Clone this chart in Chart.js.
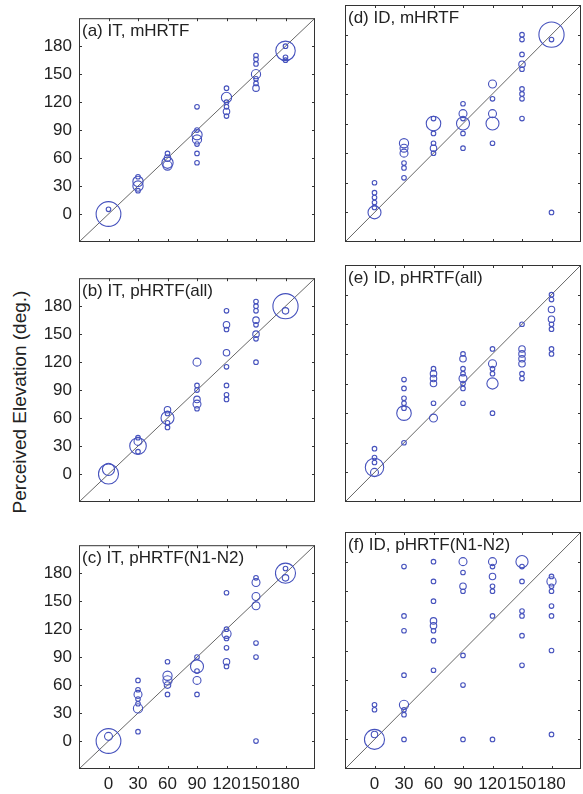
<!DOCTYPE html>
<html>
<head>
<meta charset="utf-8">
<title>Perceived vs target elevation</title>
<script src="https://cdn.jsdelivr.net/npm/chart.js@4.4.1/dist/chart.umd.min.js"></script>
<style>
  html, body { margin: 0; padding: 0; background: #fff; overflow: hidden; }
  body { width: 583px; height: 794px; position: relative; }
  canvas { position: absolute; }
  #ylabel {
    position: absolute; left: 20px; top: 402px;
    transform: translate(-50%, -50%) rotate(-90deg);
    font: 19px "Liberation Sans", Arial, sans-serif; color: #222;
    white-space: nowrap;
  }
</style>
</head>
<body>
<div id="ylabel">Perceived Elevation (deg.)</div>
<script>
// target elevations (x) and tick values shared by every panel
const ELEV_TICKS = [0, 30, 60, 90, 120, 150, 180];

// each row below = responses for one target elevation (same order as ELEV_TICKS)
// perceived elevation of a response cluster, and how many responses fell there

// (a) IT, mHRTF
const itM_perceived = [
  [0, 5],
  [40, 35, 30, 25],
  [65, 60, 55, 52],
  [115, 90, 85, 80, 75, 65, 55],
  [135, 125, 120, 115, 110, 105],
  [170, 166, 161, 150, 145, 140, 135],
  [180, 175, 168, 165],
];
const itM_count = [
  [29, 1],
  [1, 5, 5, 1],
  [1, 2, 6, 4],
  [1, 1, 5, 4, 1, 1, 1],
  [1, 5, 1, 1, 2, 1],
  [1, 1, 1, 4, 1, 1, 2],
  [1, 18, 1, 1],
];

// (d) ID, mHRTF
const idM_perceived = [
  [30, 20, 15, 10, 5, 0],
  [70, 65, 60, 50, 45, 35],
  [95, 90, 80, 70, 65, 60],
  [110, 100, 95, 90, 80, 65],
  [130, 115, 100, 90, 70],
  [180, 175, 160, 150, 145, 125, 120, 115, 95],
  [180, 175, 0],
];
const idM_count = [
  [1, 1, 1, 1, 1, 8],
  [4, 3, 3, 1, 1, 1],
  [1, 10, 1, 1, 2, 1],
  [1, 3, 1, 8, 1, 1],
  [3, 1, 3, 8, 1],
  [1, 1, 1, 2, 1, 1, 1, 1, 1],
  [30, 1, 1],
];

// (b) IT, pHRTF(all)
const itAll_perceived = [
  [5, 0],
  [39, 35, 30, 24],
  [69, 65, 60, 55, 50],
  [120, 95, 90, 80, 75, 70],
  [175, 160, 155, 130, 115, 95, 85, 80],
  [185, 180, 175, 165, 160, 150, 145, 120],
  [180, 175],
];
const itAll_count = [
  [7, 19],
  [1, 3, 13, 1],
  [2, 1, 8, 1, 1],
  [3, 1, 1, 2, 3, 1],
  [1, 2, 1, 2, 1, 1, 1, 1],
  [1, 1, 1, 2, 1, 2, 1, 1],
  [30, 2],
];

// (e) ID, pHRTF(all)
const idAll_perceived = [
  [24, 15, 10, 5, 0],
  [94, 85, 75, 70, 65, 60, 30],
  [105, 100, 95, 90, 70, 55],
  [120, 115, 105, 100, 95, 90, 85, 70],
  [125, 110, 105, 100, 90, 60],
  [150, 125, 120, 115, 110, 100, 95],
  [180, 175, 165, 155, 150, 145, 125, 120],
];
const idAll_count = [
  [1, 1, 1, 16, 3],
  [1, 1, 1, 1, 1, 10, 1],
  [1, 2, 2, 2, 1, 3],
  [1, 2, 1, 1, 3, 1, 1, 1],
  [1, 3, 1, 1, 6, 1],
  [1, 2, 2, 2, 2, 1, 1],
  [1, 1, 2, 2, 1, 1, 1, 1],
];

// (c) IT, pHRTF(N1-N2)
const itN_perceived = [
  [5, 0],
  [65, 55, 50, 45, 40, 35, 10],
  [85, 70, 65, 60, 50],
  [90, 80, 75, 65, 50],
  [159, 120, 115, 110, 100, 85, 80],
  [175, 170, 155, 145, 105, 90, 0],
  [185, 180, 175],
];
const itN_count = [
  [3, 29],
  [1, 1, 3, 1, 1, 4, 1],
  [1, 4, 4, 2, 1],
  [1, 8, 1, 3, 1],
  [1, 1, 4, 1, 1, 2, 1],
  [1, 3, 3, 3, 1, 1, 1],
  [1, 19, 2],
];

// (f) ID, pHRTF(N1-N2)
const idN_perceived = [
  [35, 30, 5, 0],
  [175, 125, 110, 65, 35, 30, 25, 0],
  [180, 160, 140, 120, 115, 110, 100, 70],
  [180, 169, 155, 150, 85, 55, 0],
  [180, 175, 165, 155, 150, 125, 0],
  [180, 175, 160, 130, 125, 105, 75],
  [165, 160, 155, 150, 135, 125, 90, 5],
];
const idN_count = [
  [1, 1, 2, 19],
  [1, 1, 1, 1, 4, 1, 1, 1],
  [1, 1, 1, 2, 2, 1, 1, 1],
  [3, 1, 2, 1, 1, 1, 1],
  [3, 1, 2, 1, 1, 1, 1],
  [7, 1, 1, 1, 1, 1, 1],
  [1, 4, 1, 1, 1, 1, 1, 1],
];

const PANELS = [
  { title: '(a) IT, mHRTF',        perceived: itM_perceived,   count: itM_count,   col: 0, row: 0 },
  { title: '(d) ID, mHRTF',        perceived: idM_perceived,   count: idM_count,   col: 1, row: 0 },
  { title: '(b) IT, pHRTF(all)',   perceived: itAll_perceived, count: itAll_count, col: 0, row: 1 },
  { title: '(e) ID, pHRTF(all)',   perceived: idAll_perceived, count: idAll_count, col: 1, row: 1 },
  { title: '(c) IT, pHRTF(N1-N2)', perceived: itN_perceived,   count: itN_count,   col: 0, row: 2 },
  { title: '(f) ID, pHRTF(N1-N2)', perceived: idN_perceived,   count: idN_count,   col: 1, row: 2 },
];

// layout
const BOX_LEFT = [79, 345];
const BOX_TOP = [5, 265, 532];
const BOX_W = 236, BOX_H = 237;
const Y_AXIS_W = 50, X_AXIS_H = 30, PAD_TOP = 4, PAD_RIGHT = 2;
const FONT = '"Liberation Sans", Arial, sans-serif';
const INK = '#222';
const BUBBLE = '#4652bd';

const radiusFor = n => 2.3 * Math.sqrt(n);

// box around the plot area, inward tick marks, panel caption
const framePlugin = {
  id: 'frame',
  afterDraw(chart, args, opts) {
    const { ctx, chartArea: a, scales: { x, y } } = chart;
    ctx.save();
    ctx.strokeStyle = '#333';
    ctx.lineWidth = 1;
    ctx.strokeRect(a.left + 0.5, a.top + 0.5, a.right - a.left - 1, a.bottom - a.top - 1);
    ctx.beginPath();
    const tl = 3;
    ELEV_TICKS.forEach(v => {
      const px = Math.round(x.getPixelForValue(v)) + 0.5;
      ctx.moveTo(px, a.bottom); ctx.lineTo(px, a.bottom - tl);
      ctx.moveTo(px, a.top);    ctx.lineTo(px, a.top + tl);
      const py = Math.round(y.getPixelForValue(v)) + 0.5;
      ctx.moveTo(a.left, py);  ctx.lineTo(a.left + tl, py);
      ctx.moveTo(a.right, py); ctx.lineTo(a.right - tl, py);
    });
    ctx.stroke();
    ctx.fillStyle = INK;
    ctx.font = '17px ' + FONT;
    ctx.textBaseline = 'alphabetic';
    ctx.fillText(opts.title, a.left + 3, a.top + 18);
    ctx.restore();
  }
};

PANELS.forEach(p => {
  const canvas = document.createElement('canvas');
  const w = Y_AXIS_W + BOX_W + PAD_RIGHT;
  const h = PAD_TOP + BOX_H + X_AXIS_H;
  canvas.width = w; canvas.height = h;
  canvas.style.left = (BOX_LEFT[p.col] - Y_AXIS_W) + 'px';
  canvas.style.top = (BOX_TOP[p.row] - PAD_TOP) + 'px';
  canvas.style.width = w + 'px'; canvas.style.height = h + 'px';
  document.body.appendChild(canvas);

  const points = [];
  ELEV_TICKS.forEach((target, i) => {
    p.perceived[i].forEach((elev, j) => {
      points.push({ x: target, y: elev, r: radiusFor(p.count[i][j]) });
    });
  });

  const axisTicks = show => ({
    display: show,
    font: { family: FONT, size: 17 },
    color: INK,
    autoSkip: false,
    minRotation: 0,
    maxRotation: 0,
  });
  const fixedTicks = scale => { scale.ticks = ELEV_TICKS.map(v => ({ value: v })); };

  new Chart(canvas, {
    type: 'bubble',
    data: {
      datasets: [
        {
          type: 'line',
          data: [{ x: -30, y: -30 }, { x: 210, y: 210 }],
          borderColor: '#666',
          borderWidth: 1,
          pointRadius: 0,
          fill: false,
          order: 2,
        },
        {
          data: points,
          backgroundColor: 'rgba(0,0,0,0)',
          borderColor: BUBBLE,
          borderWidth: 1.1,
          order: 1,
        },
      ],
    },
    options: {
      responsive: false,
      animation: false,
      events: [],
      // keep the plot box where the padding puts it, whatever the bubble sizes
      layout: { autoPadding: false, padding: { top: PAD_TOP, right: PAD_RIGHT, left: 0, bottom: 0 } },
      plugins: {
        legend: { display: false },
        tooltip: { enabled: false },
        frame: { title: p.title },
      },
      scales: {
        x: {
          type: 'linear', min: -30, max: 210,
          grid: { display: false, drawTicks: false },
          border: { display: false },
          ticks: { ...axisTicks(p.row === 2), padding: 5 },
          afterBuildTicks: fixedTicks,
          afterFit: s => { s.height = X_AXIS_H; },
        },
        y: {
          type: 'linear', min: -30, max: 210,
          grid: { display: false, drawTicks: false },
          border: { display: false },
          ticks: { ...axisTicks(p.col === 0), padding: 7 },
          afterBuildTicks: fixedTicks,
          afterFit: s => { s.width = Y_AXIS_W; },
        },
      },
    },
    plugins: [framePlugin],
  });
});
</script>
</body>
</html>
